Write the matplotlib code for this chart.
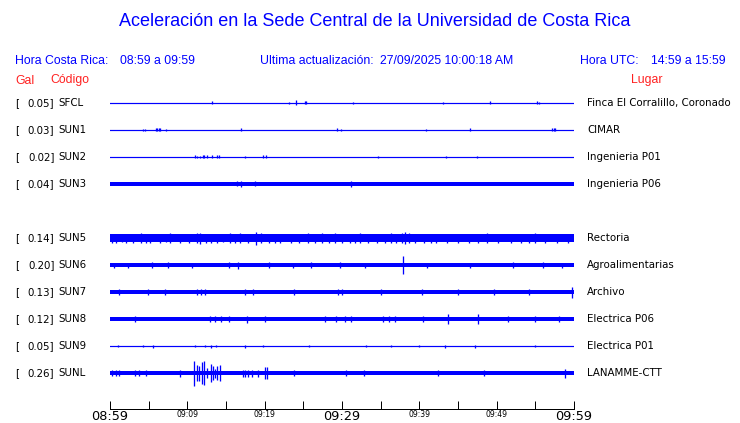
import matplotlib
matplotlib.use("Agg")
import matplotlib.pyplot as plt

# Estaciones (codigo, aceleracion maxima en Gal, lugar)
codes = ["SFCL", "SUN1", "SUN2", "SUN3", "SUN5", "SUN6", "SUN7", "SUN8", "SUN9", "SUNL"]
gal = ["0.05", "0.03", "0.02", "0.04", "0.14", "0.20", "0.13", "0.12", "0.05", "0.26"]
places = ["Finca El Corralillo, Coronado", "CIMAR", "Ingenieria P01", "Ingenieria P06",
          "Rectoria", "Agroalimentarias", "Archivo", "Electrica P06", "Electrica P01",
          "LANAMME-CTT"]
rows = [0, 1, 2, 3, 5, 6, 7, 8, 9, 10]  # fila 4 vacia

# nivel de ruido de fondo (semiancho de la banda)
base = [0, 0, 0, 1.7, 3.6, 1.7, 2.0, 1.9, 0.3, 2.4]

# eventos: (minuto desde 08:59, semiamplitud)
sfcl_ev = [(13.2, 1.5), (23.1, 1), (24.0, 2.5), (25.2, 1.5), (25.4, 1.5), (31.4, 1),
           (43.1, 1), (49.1, 1.5), (55.2, 1.5), (55.5, 1)]
sun1_ev = [(4.3, 1), (4.5, 1), (5.9, 1.5), (6.1, 1.5), (6.3, 1.5), (6.5, 1.5), (7.2, 1.2),
           (16.9, 1.5), (29.4, 1.5), (29.9, 1), (40.8, 1), (46.5, 1.5), (57.2, 1.5),
           (57.4, 1.5), (57.6, 1.5)]
sun2_ev = [(10.95, 1.5), (11.2, 1), (11.7, 1), (12.0, 1.5), (12.2, 1.5), (12.6, 1.5),
           (13.2, 1.5), (13.9, 1.5), (14.1, 1.5), (17.5, 1), (19.8, 1.5), (20.2, 1.5),
           (34.6, 1), (43.4, 1), (47.5, 1)]
sun3_ev = [(16.4, 2.5), (17.0, 3), (18.8, 2.5), (31.1, 3)]
sun5_ev = [(0.3, 4.5), (0.8, 4.5), (1.5, 4), (2.1, 4.5), (3.0, 4.5), (4.0, 5), (4.6, 4.5),
           (5.2, 4.5), (6.5, 4.5), (7.2, 4), (7.8, 5), (9.0, 4.5), (10.2, 4.5), (11.2, 5),
           (11.6, 5.5), (12.4, 4.5), (13.1, 4.5), (13.8, 4.5), (14.6, 4), (15.5, 5),
           (16.2, 4.5), (16.8, 5), (17.9, 4.5), (18.9, 6.5), (19.5, 5), (20.6, 4.5),
           (21.3, 4.5), (22.0, 4.5), (23.4, 4.5), (24.5, 4.5), (25.6, 5), (26.5, 4.5),
           (27.4, 5), (28.3, 4.5), (29.1, 5), (30.0, 4.5), (31.0, 4.5), (31.7, 4.5),
           (32.3, 5), (33.4, 4.5), (34.5, 4.5), (35.5, 4.5), (36.4, 5), (37.0, 4.5),
           (37.7, 5), (38.2, 6), (38.6, 5), (39.5, 4.5), (40.6, 4.5), (41.5, 4.5),
           (42.2, 4.5), (43.6, 4.5), (45.0, 4.5), (46.4, 4.5), (47.6, 4.5), (48.7, 5),
           (50.2, 4.5), (51.8, 4.5), (53.2, 4.5), (54.2, 4.5), (55.0, 5), (56.3, 4.5),
           (57.8, 4.5), (59.2, 4.5)]
sun6_ev = [(0.5, 2.5), (2.3, 2.5), (5.4, 2.8), (7.5, 2.8), (10.6, 2.5), (15.4, 3),
           (16.6, 3.5), (20.5, 2.8), (23.7, 2.5), (26.0, 3), (29.7, 3), (33.0, 2.5),
           (37.9, 9), (41.0, 2.5), (46.5, 2.5), (52.1, 2.8), (56.0, 2.8), (58.5, 2.5)]
sun7_ev = [(1.1, 3), (4.9, 3), (7.1, 3), (11.2, 3), (11.8, 3), (12.3, 3),
           (17.5, 3), (18.5, 3), (23.8, 2.8), (29.5, 3), (30.0, 3), (35.1, 3),
           (40.3, 3), (45.0, 2.8), (49.6, 3), (54.2, 2.8), (59.8, 5.5)]
sun8_ev = [(3.2, 3), (12.9, 3), (13.6, 3), (14.4, 3), (15.4, 3), (17.7, 3.5),
           (20.0, 2.8), (27.8, 3), (29.2, 3), (30.4, 3), (31.2, 3), (35.3, 3),
           (36.1, 3), (36.8, 3), (40.5, 2.8), (43.7, 5), (47.6, 5), (51.5, 2.8),
           (55.0, 2.8), (58.0, 2.8)]
sun9_ev = [(1.0, 1), (4.3, 1), (5.5, 1.5), (11.0, 1), (12.3, 1), (13.1, 1.5), (13.7, 1),
           (17.5, 1.5), (19.8, 1), (25.7, 1), (33.1, 1), (36.4, 1), (40.0, 1),
           (43.3, 1.5), (47.2, 1.5), (55.0, 1)]
sunl_ev = [(0.3, 3), (0.8, 3), (1.2, 3), (3.2, 3), (3.8, 3), (4.6, 3),
           (9.1, 3.5), (10.9, 12.5), (11.2, 8), (11.5, 7.5), (11.9, 11), (12.2, 12),
           (12.5, 5), (13.0, 9), (13.3, 7), (13.6, 4.5), (13.9, 7.3), (14.2, 8.3),
           (17.2, 3.5), (17.5, 3.5), (17.8, 3.5), (18.4, 3.5), (19.1, 3.5), (20.0, 6),
           (20.3, 6), (23.8, 3), (30.5, 3), (32.9, 3), (42.4, 3), (48.4, 3), (58.8, 4.5)]
events = [sfcl_ev, sun1_ev, sun2_ev, sun3_ev, sun5_ev, sun6_ev, sun7_ev, sun8_ev,
          sun9_ev, sunl_ev]

tick_min = list(range(0, 61, 5))
tick_lab = {0: "08:59", 10: "09:09", 20: "09:19", 30: "09:29", 40: "09:39",
            50: "09:49", 60: "09:59"}
big_labels = [0, 30, 60]

W, H = 740, 423
BLUE = "#0000ff"
LINE = 0.72  # 1 pixel


def fx(x):
    return x / W


def fy(y):
    return 1 - y / H


fig = plt.figure(figsize=(W / 100, H / 100), dpi=100)
fig.patch.set_facecolor("white")

# ejes de las trazas, en pixeles verticales
ax = fig.add_axes([fx(110), fy(409), 464 / W, (409 - 88) / H])
ax.set_xlim(0, 60)
ax.set_ylim(409, 88)
for s in ["top", "left", "right"]:
    ax.spines[s].set_visible(False)
ax.spines["bottom"].set_linewidth(LINE)
ax.set_yticks([])
ax.set_xticks(tick_min)
ax.set_xticklabels([tick_lab.get(m, "") for m in tick_min], family="DejaVu Sans")
ax.tick_params(axis="x", direction="in", length=5.8, width=LINE, pad=1)
for m, lab in zip(tick_min, ax.get_xticklabels()):
    lab.set_fontsize(9.3 if m in big_labels else 5.5)

lab_style = dict(fontsize=7.4, family="DejaVu Sans", va="center")
for k, r in enumerate(rows):
    y0 = 103 + 27 * r
    b = base[k]
    if b > 0:
        ax.fill_between([0, 60], y0 - b, y0 + b, color=BLUE, lw=0)
    ax.plot([0, 60], [y0, y0], color=BLUE, lw=LINE * 1.2)
    mins = [e[0] for e in events[k]]
    amps = [e[1] for e in events[k]]
    ax.vlines(mins, [y0 - a for a in amps], [y0 + a for a in amps], color=BLUE,
              lw=LINE * 1.3)

    # etiquetas de la fila
    fig.text(fx(15), fy(y0), "[", **lab_style)
    fig.text(fx(54.5), fy(y0), gal[k] + "]", ha="right", **lab_style)
    fig.text(fx(58.5), fy(y0), codes[k], **lab_style)
    fig.text(fx(587), fy(y0), places[k], **lab_style)

# titulo y encabezados
fig.text(fx(375), fy(22), "Aceleración en la Sede Central de la Universidad de Costa Rica",
         color=BLUE, fontsize=12.95, family="Liberation Sans", ha="center", va="center")
hdr = dict(color=BLUE, fontsize=8.8, family="Liberation Sans", va="center")
fig.text(fx(15), fy(60.5), "Hora Costa Rica:", **hdr)
fig.text(fx(120), fy(60.5), "08:59 a 09:59", **hdr)
fig.text(fx(260), fy(60.5), "Ultima actualización:", **hdr)
fig.text(fx(380), fy(60.5), "27/09/2025 10:00:18 AM", **hdr)
fig.text(fx(580.5), fy(60.5), "Hora UTC:", **hdr)
fig.text(fx(651), fy(60.5), "14:59 a 15:59", **hdr)

red = dict(color="#ff2020", fontsize=8.8, family="Liberation Sans", va="center")
fig.text(fx(15), fy(80.5), "Gal", **red)
fig.text(fx(50), fy(80.5), "Código", **red)
fig.text(fx(630.5), fy(80.5), "Lugar", **red)

fig.savefig("out.png", dpi=100)
